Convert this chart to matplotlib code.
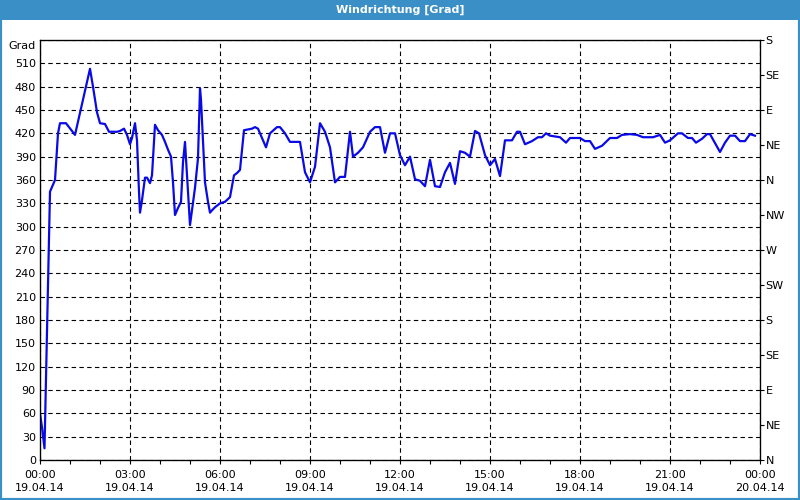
import matplotlib.pyplot as plt
from matplotlib.patches import Rectangle

# Minuten seit 19.04.14 00:00 und Windrichtung in Grad
minutes = [0, 4, 9, 20, 30, 36, 40, 52, 70, 100, 106, 114, 120, 130, 138, 154, 160, 168,
           174, 180, 184, 190, 194, 198, 200, 204, 210, 214, 220, 224, 230, 236, 244, 250,
           256, 262, 266, 270, 276, 282, 286, 290, 294, 300, 304, 310, 316, 320, 322, 326,
           330, 336, 340, 344, 350, 360, 370, 380, 388, 394, 400, 408, 424, 430, 436, 444,
           452, 460, 474, 480, 490, 500, 520, 530, 540, 550, 560, 570, 580, 590, 600, 610,
           620, 626, 636, 646, 660, 670, 680, 690, 700, 710, 720, 730, 740, 750, 760, 770,
           780, 790, 800, 810, 820, 830, 840, 850, 860, 870, 878, 890, 900, 910, 920, 930,
           944, 954, 960, 970, 984, 996, 1004, 1012, 1020, 1040, 1052, 1060, 1080, 1090,
           1100, 1110, 1124, 1140, 1154, 1164, 1180, 1194, 1206, 1226, 1240, 1250, 1260,
           1276, 1284, 1296, 1304, 1312, 1324, 1334, 1340, 1360, 1370, 1380, 1390, 1400,
           1410, 1420, 1430]
direction = [60, 42, 15, 345, 360, 420, 433, 433, 418, 503, 480, 447, 433, 432, 422, 422, 423, 426,
             418, 406, 414, 433, 411, 345, 318, 334, 363, 363, 356, 366, 431, 424, 418, 409,
             399, 390, 357, 315, 324, 332, 383, 409, 366, 302, 321, 350, 388, 478, 463, 409,
             357, 332, 318, 321, 325, 330, 332, 338, 366, 369, 373, 424, 426, 428, 426, 414,
             402, 420, 428, 428, 420, 409, 409, 370, 357, 377, 433, 422, 402, 357, 364, 364,
             422, 390, 395, 402, 422, 428, 428, 395, 420, 420, 392, 379, 390, 361, 359, 352,
             386, 352, 351, 370, 382, 355, 397, 395, 390, 423, 420, 392, 379, 387, 365, 411,
             411, 422, 422, 406, 410, 415, 415, 420, 417, 415, 408, 414, 414, 410,
             410, 400, 404, 414, 414, 418, 419, 418, 415, 415, 418, 408, 411,
             420, 420, 414, 414, 408, 413, 419, 419, 396, 408, 417, 417, 410,
             410, 419, 417]

time_labels = ["00:00", "03:00", "06:00", "09:00", "12:00", "15:00", "18:00", "21:00", "00:00"]
date_labels = ["19.04.14"] * 8 + ["20.04.14"]
compass = ["N", "NE", "E", "SE", "S", "SW", "W", "NW", "N", "NE", "E", "SE", "S"]

bar_blue = '#3b8fc7'

fig = plt.figure(figsize=(8, 5), dpi=100)
fig.patch.set_facecolor('white')

# Titelleiste und Rahmen
fig.patches.append(Rectangle((0, 0.96), 1, 0.04, transform=fig.transFigure,
                             facecolor=bar_blue, edgecolor='none', zorder=0))
fig.patches.append(Rectangle((0, 0), 1, 1, transform=fig.transFigure, fill=False,
                             edgecolor=bar_blue, linewidth=3, zorder=0))
fig.text(0.5, 0.98, "Windrichtung [Grad]", color='white', fontsize=8,
         fontweight='bold', ha='center', va='center')

ax = fig.add_axes([0.05, 0.08, 0.9, 0.84])
ax.plot(minutes, direction, color='#0a0ae6', linewidth=1.6, zorder=3)

ax.set_xlim(0, 1440)
ax.set_ylim(0, 540)
ax.set_yticks(range(0, 541, 30))
ax.set_yticklabels([str(v) for v in range(0, 541, 30)][:-1] + [""])
ax.set_xticks(range(0, 1441, 180))
ax.set_xticklabels([f"{t}\n{d}" for t, d in zip(time_labels, date_labels)],
                   linespacing=1.45)
ax.set_xticks(range(0, 1441, 60), minor=True)

ax.tick_params(axis='y', length=0, pad=3, labelsize=8)
ax.tick_params(axis='x', which='both', length=3, width=0.8, pad=4, labelsize=8, direction='out')
ax.grid(True, color='black', linestyle=(0, (4, 3)), linewidth=0.8)
for s in ax.spines.values():
    s.set_linewidth(0.9)

ax2 = ax.twinx()
ax2.set_ylim(0, 540)
ax2.set_yticks(range(0, 541, 45))
ax2.set_yticklabels(compass)
ax2.tick_params(axis='y', length=3, width=0.8, pad=1, labelsize=8)

fig.text(36 / 800, 1 - 46 / 500, "Grad", fontsize=8, ha='right', va='center')

fig.savefig("out.png", dpi=100)
